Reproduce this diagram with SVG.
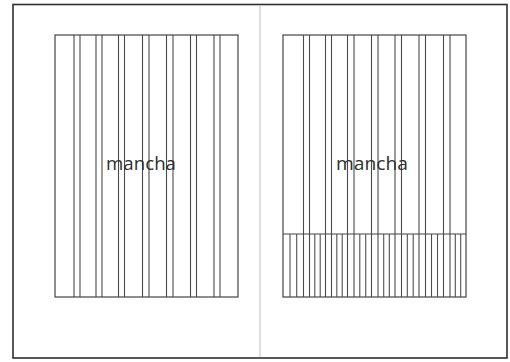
<svg xmlns="http://www.w3.org/2000/svg" width="510" height="362" viewBox="0 0 510 362">
<style>
.frame{fill:none;stroke:#2e2e2e;stroke-width:1.6}
.div{stroke:#c8c8c8;stroke-width:1.2}
.box{fill:none;stroke:#444;stroke-width:1.2}
.col{stroke:#4a4a4a;stroke-width:1.1}
.sub{stroke:#505050;stroke-width:1.1}
.lbl{font-family:"Open Sans","DejaVu Sans",sans-serif;font-size:18.5px;fill:#2e2e2e;text-anchor:middle}
</style>
<rect width="510" height="362" fill="#fff"/>
<g id="frame">
<rect class="frame" x="13" y="4.5" width="494" height="353.5"/>
<line class="div" x1="260" y1="5" x2="260" y2="357"/>
</g>
<g id="left-page">
<rect class="box" x="55" y="35" width="183" height="262"/>
<g class="col">
<line x1="74" y1="35" x2="74" y2="297"/><line x1="80" y1="35" x2="80" y2="297"/>
<line x1="96" y1="35" x2="96" y2="297"/><line x1="102" y1="35" x2="102" y2="297"/>
<line x1="118.5" y1="35" x2="118.5" y2="297"/><line x1="124.5" y1="35" x2="124.5" y2="297"/>
<line x1="142.5" y1="35" x2="142.5" y2="297"/><line x1="149" y1="35" x2="149" y2="297"/>
<line x1="166.5" y1="35" x2="166.5" y2="297"/><line x1="173" y1="35" x2="173" y2="297"/>
<line x1="190.5" y1="35" x2="190.5" y2="297"/><line x1="196.5" y1="35" x2="196.5" y2="297"/>
<line x1="214" y1="35" x2="214" y2="297"/><line x1="220" y1="35" x2="220" y2="297"/>
</g>
<text class="lbl" x="141" y="169.5" textLength="70" lengthAdjust="spacingAndGlyphs">mancha</text>
</g>
<g id="right-page">
<rect class="box" x="283" y="35" width="183" height="262"/>
<g class="col">
<line x1="303.5" y1="35" x2="303.5" y2="297"/><line x1="309.5" y1="35" x2="309.5" y2="297"/>
<line x1="325.5" y1="35" x2="325.5" y2="297"/><line x1="331.5" y1="35" x2="331.5" y2="297"/>
<line x1="347.5" y1="35" x2="347.5" y2="297"/><line x1="354" y1="35" x2="354" y2="297"/>
<line x1="371.5" y1="35" x2="371.5" y2="297"/><line x1="378" y1="35" x2="378" y2="297"/>
<line x1="395" y1="35" x2="395" y2="297"/><line x1="401.5" y1="35" x2="401.5" y2="297"/>
<line x1="419" y1="35" x2="419" y2="297"/><line x1="425.5" y1="35" x2="425.5" y2="297"/>
<line x1="443.5" y1="35" x2="443.5" y2="297"/><line x1="450" y1="35" x2="450" y2="297"/>
</g>
<line class="box" x1="283" y1="234" x2="466" y2="234"/>
<g class="sub">
<line x1="290" y1="234" x2="290" y2="297"/><line x1="296.7" y1="234" x2="296.7" y2="297"/>
<line x1="314.8" y1="234" x2="314.8" y2="297"/><line x1="320.2" y1="234" x2="320.2" y2="297"/>
<line x1="336.8" y1="234" x2="336.8" y2="297"/><line x1="342.2" y1="234" x2="342.2" y2="297"/>
<line x1="359.8" y1="234" x2="359.8" y2="297"/><line x1="365.7" y1="234" x2="365.7" y2="297"/>
<line x1="383.7" y1="234" x2="383.7" y2="297"/><line x1="389.3" y1="234" x2="389.3" y2="297"/>
<line x1="407.3" y1="234" x2="407.3" y2="297"/><line x1="413.2" y1="234" x2="413.2" y2="297"/>
<line x1="431.5" y1="234" x2="431.5" y2="297"/><line x1="437.5" y1="234" x2="437.5" y2="297"/>
<line x1="455.3" y1="234" x2="455.3" y2="297"/><line x1="460.7" y1="234" x2="460.7" y2="297"/>
</g>
<text class="lbl" x="372" y="169.5" textLength="72" lengthAdjust="spacingAndGlyphs">mancha</text>
</g>
</svg>
